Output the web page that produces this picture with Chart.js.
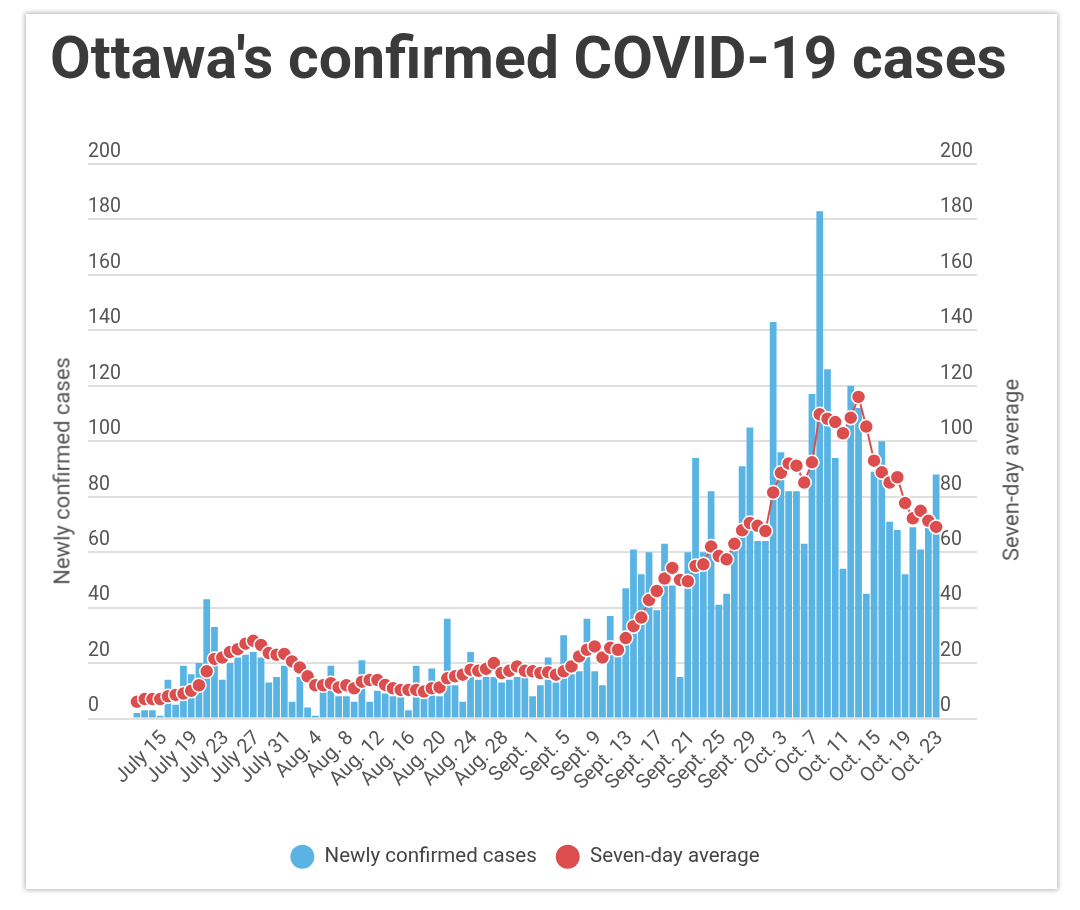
<!DOCTYPE html>
<html><head><meta charset="utf-8">
<script src="https://cdn.jsdelivr.net/npm/chart.js@4.4.0/dist/chart.umd.min.js"></script>
<style>
html,body{margin:0;padding:0;background:#fff;width:1080px;height:910px;overflow:hidden;font-family:Roboto,sans-serif;}
#card{position:absolute;left:26px;top:14px;width:1031px;height:875px;background:#fff;box-shadow:0 0 5px 1px rgba(0,0,0,0.3);}
#title{position:absolute;left:50px;top:28px;font:700 59px/59px Roboto,sans-serif;color:#3a3a3a;white-space:nowrap;margin:0;}
canvas{position:absolute;left:0;top:0;}
.axt{position:absolute;font:22px Roboto,sans-serif;color:#555;white-space:nowrap;transform:translate(-50%,-50%) rotate(-90deg);}
</style></head>
<body>
<div id="card"></div>
<h1 id="title">Ottawa's confirmed COVID-19 cases</h1>
<canvas id="c" width="1080" height="910"></canvas>
<div class="axt" style="left:62px;top:471px">Newly confirmed cases</div>
<div class="axt" style="left:1011px;top:470px">Seven-day average</div>
<script>
const days = [
 "July 12","July 13","July 14","July 15","July 16","July 17","July 18","July 19","July 20","July 21",
 "July 22","July 23","July 24","July 25","July 26","July 27","July 28","July 29","July 30","July 31",
 "Aug. 1","Aug. 2","Aug. 3","Aug. 4","Aug. 5","Aug. 6","Aug. 7","Aug. 8","Aug. 9","Aug. 10",
 "Aug. 11","Aug. 12","Aug. 13","Aug. 14","Aug. 15","Aug. 16","Aug. 17","Aug. 18","Aug. 19","Aug. 20",
 "Aug. 21","Aug. 22","Aug. 23","Aug. 24","Aug. 25","Aug. 26","Aug. 27","Aug. 28","Aug. 29","Aug. 30","Aug. 31",
 "Sept. 1","Sept. 2","Sept. 3","Sept. 4","Sept. 5","Sept. 6","Sept. 7","Sept. 8","Sept. 9","Sept. 10",
 "Sept. 11","Sept. 12","Sept. 13","Sept. 14","Sept. 15","Sept. 16","Sept. 17","Sept. 18","Sept. 19","Sept. 20",
 "Sept. 21","Sept. 22","Sept. 23","Sept. 24","Sept. 25","Sept. 26","Sept. 27","Sept. 28","Sept. 29","Sept. 30",
 "Oct. 1","Oct. 2","Oct. 3","Oct. 4","Oct. 5","Oct. 6","Oct. 7","Oct. 8","Oct. 9","Oct. 10",
 "Oct. 11","Oct. 12","Oct. 13","Oct. 14","Oct. 15","Oct. 16","Oct. 17","Oct. 18","Oct. 19","Oct. 20",
 "Oct. 21","Oct. 22","Oct. 23"
];
const tickLabels = ["July 15","July 19","July 23","July 27","July 31","Aug. 4","Aug. 8","Aug. 12","Aug. 16",
 "Aug. 20","Aug. 24","Aug. 28","Sept. 1","Sept. 5","Sept. 9","Sept. 13","Sept. 17","Sept. 21","Sept. 25",
 "Sept. 29","Oct. 3","Oct. 7","Oct. 11","Oct. 15","Oct. 19","Oct. 23"];
const newCases = [
 2,3,3,1,14,5,19,16,20,43,
 33,14,20,22,23,24,22,13,15,19,
 6,15,4,1,14,19,8,8,6,21,
 6,10,9,8,8,3,19,7,18,8,
 36,12,6,24,14,15,15,13,14,15,15,
 8,12,22,13,30,16,17,36,17,12,
 37,24,47,61,52,60,39,63,48,15,
 60,94,60,82,41,45,63,91,105,64,
 64,143,96,82,82,63,117,183,126,94,
 54,120,112,45,89,100,71,68,52,69,
 61,69,88
];
const sevenDayAvg = [
 6,7,7,7,8,8.5,9,10,12,17,
 21.5,22,24,25,27,28,26.5,23.6,23,23.3,
 20.6,18.4,15.2,12,12,12.7,11.2,12,10.9,13.3,
 13.9,13.9,12.1,10.9,10.3,10.3,10.3,9.7,10.9,11.2,
 14.5,15.2,15.8,17.6,17.2,17.9,20,16.4,17.2,18.8,17.2,
 17,16.4,16.7,15.8,17,18.8,22.4,24.8,26,22,
 25.5,24.8,29,33.3,36.4,42.7,46,50.5,54.3,50,
 49.5,55,55.6,62,58.6,57.4,63,67.9,70.5,69.5,
 67.6,81.5,88.6,92,91.2,85.1,92.4,109.7,108.1,106.9,
 102.9,108.5,116,105.3,93,88.8,85.1,87,77.7,72.2,
 74.9,71.3,69.1
];
const yTicks = [0,20,40,60,80,100,120,140,160,180,200];

Chart.defaults.font.family = 'Roboto, sans-serif';
const BLUE = '#5ab4e3', RED = '#dc4e4e', GRID = '#e0e0e0', TXT = '#555';

new Chart(document.getElementById('c'), {
  data: {
    labels: days,
    datasets: [
      { type:'bar', label:'Newly confirmed cases', data:newCases, yAxisID:'y',
        backgroundColor:BLUE, barPercentage:0.87, categoryPercentage:1, order:1 },
      { type:'line', label:'Seven-day average', data:sevenDayAvg, yAxisID:'y1',
        borderColor:RED, backgroundColor:RED, borderWidth:2, tension:0,
        pointRadius:7, pointBackgroundColor:RED, pointBorderColor:'#fff', pointBorderWidth:1.5, order:0 }
    ]
  },
  options: {
    responsive:false, animation:false,
    layout:{ padding:{ left:50, right:80, top:164, bottom:33 } },
    plugins:{
      tooltip:{ enabled:false },
      legend:{ position:'bottom',
        labels:{ usePointStyle:true, pointStyle:'circle', boxHeight:17, pointStyleWidth:24,
          font:{ size:20.5 }, color:'#444', padding:19,
          generateLabels(chart){
            const items = Chart.defaults.plugins.legend.labels.generateLabels(chart);
            items.forEach(it => { it.lineWidth = 0; it.lineDash = []; it.pointStyle = 'circle'; });
            items.sort((a,b) => a.datasetIndex - b.datasetIndex);
            return items;
          } } }
    },
    scales:{
      x:{ grid:{ display:false }, border:{ display:false },
          ticks:{ autoSkip:false, maxRotation:45, minRotation:45, color:TXT, font:{ size:20 }, padding:0,
                  labelOffset:4,
                  callback(v, i){ return tickLabels.includes(days[i]) ? days[i] : ''; } },
          afterFit(s){ s.height = 109; } },
      y:{ position:'left', min:0, max:200,
          afterBuildTicks(s){ s.ticks = yTicks.map(v => ({ value:v })); },
          ticks:{ mirror:true, padding:-45, labelOffset:-12, color:TXT, font:{ size:19.5 } },
          grid:{ color:GRID, lineWidth:2, tickLength:45 }, border:{ display:false },
          afterFit(s){ s.width = 83; } },
      y1:{ position:'right', min:0, max:200,
          afterBuildTicks(s){ s.ticks = yTicks.map(v => ({ value:v })); },
          ticks:{ padding:-37, labelOffset:-12, color:TXT, font:{ size:19.5 } },
          grid:{ drawOnChartArea:false, color:GRID, lineWidth:2, tickLength:37 }, border:{ display:false },
          afterFit(s){ s.width = 60; } }
    }
  }
});
</script>
</body></html>
